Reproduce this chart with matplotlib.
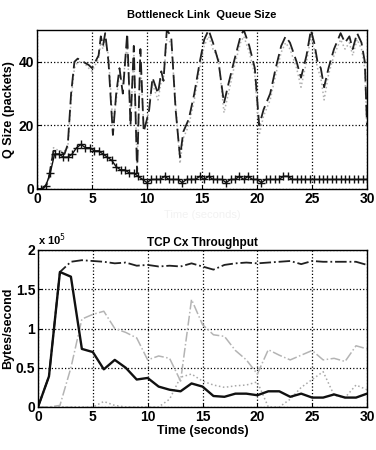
import numpy as np
import matplotlib
matplotlib.use("Agg")
import matplotlib.pyplot as plt

plt.rcParams['font.family'] = ['Liberation Sans', 'DejaVu Sans']

# bottleneck queue, instantaneous (dashed) and second trace (light dotted)
q_t = [0, 0.5, 1.0, 1.5, 2.0, 2.5, 2.8, 3.1, 3.4, 3.7, 4.2, 4.7, 5.0, 5.3, 5.6,
       5.8, 6.0, 6.2, 6.5, 6.9, 7.2, 7.5, 7.8, 8.2, 8.5, 8.8, 9.1, 9.4, 9.7, 10.0,
       10.2, 10.5, 11.0, 11.3, 11.5, 11.8, 12.2, 12.6, 13.0, 13.3, 13.8, 14.3, 14.8,
       15.2, 15.6, 16.0, 16.5, 17.0, 17.4, 17.9, 18.5, 18.8, 19.3, 19.8, 20.2, 20.6,
       21.2, 21.7, 22.2, 22.6, 23.0, 23.6, 24.0, 24.5, 24.9, 25.2, 25.5, 25.8, 26.1,
       26.5, 27.0, 27.6, 28.0, 28.4, 28.7, 29.1, 29.5, 29.8, 30.0]
q_inst = [0, 0, 2, 12, 12, 11, 14, 30, 40, 41, 40, 39, 38, 40, 42,
          48, 45, 49, 40, 17, 30, 38, 30, 49, 20, 45, 5, 44, 18, 22,
          25, 35, 30, 37, 34, 50, 48, 25, 10, 18, 22, 30, 40,
          47, 50, 46, 40, 27, 33, 40, 48, 50, 45, 38, 20, 25,
          30, 38, 45, 48, 46, 40, 35, 42, 50, 46, 40, 38, 32,
          38, 44, 49, 46, 48, 44, 49, 46, 40, 20]
q_other = [0, 0, 2, 13, 12, 12, 13, 28, 38, 40, 40, 38, 37, 39, 41,
           46, 44, 47, 42, 20, 28, 36, 33, 46, 22, 42, 8, 40, 20, 20,
           27, 33, 28, 34, 35, 47, 46, 27, 8, 16, 20, 28, 38,
           45, 48, 44, 41, 24, 30, 38, 46, 48, 43, 36, 17, 23,
           28, 36, 43, 46, 44, 38, 32, 40, 48, 44, 38, 35, 28,
           36, 42, 47, 44, 46, 42, 47, 44, 38, 17]

# averaged queue, sampled every 0.4 s
avg_t = np.arange(76) * 0.4
q_avg = [0, 0, 1, 5, 11, 11, 10, 10, 11, 13, 14, 13, 13, 12, 12, 11, 10, 9, 7, 6,
         6, 5, 5, 4, 3, 2, 3, 3, 3, 4, 3, 3, 3, 2, 3, 3, 3, 4, 3, 4,
         3, 3, 3, 2, 3, 3, 4, 3, 4, 3, 3, 2, 3, 3, 3, 3, 4, 4, 3, 3,
         3, 3, 3, 3, 3, 3, 3, 3, 3, 3, 3, 3, 3, 3, 3, 3]

# per-connection throughput, bytes/second, one sample per second
tput_t = list(range(31))
cx1 = [0, 39000, 172000, 166000, 74000, 70000, 48000, 60000, 50000, 35000, 37000,
       26000, 22000, 20000, 30000, 26000, 14000, 13000, 17000, 17000, 15000,
       20000, 20000, 13000, 17000, 12000, 12000, 16000, 12000, 12000, 17000]
cx2 = [0, 39000, 172000, 185000, 187000, 186000, 185000, 183000, 184000, 180000, 181000,
       179000, 180000, 179000, 183000, 179000, 175000, 181000, 183000, 184000, 183000,
       184000, 185000, 186000, 182000, 186000, 185000, 185000, 185000, 185000, 181000]
cx3 = [0, 0, 2000, 50000, 112000, 118000, 122000, 100000, 95000, 88000, 60000,
       65000, 62000, 33000, 137000, 105000, 92000, 90000, 72000, 60000, 42000,
       73000, 66000, 60000, 66000, 72000, 60000, 62000, 58000, 78000, 74000]
cx4 = [0, 0, 0, 0, 0, 0, 7000, 2000, 0, 0, 0,
       0, 10000, 38000, 42000, 33000, 28000, 25000, 27000, 28000, 32000,
       0, 0, 10000, 25000, 35000, 45000, 15000, 12000, 28000, 22000]

W, H = 376, 450
fig = plt.figure(figsize=(W / 100, H / 100), dpi=100)
ax1 = fig.add_axes([37 / W, 1 - 189 / H, 330 / W, 159 / H])
ax2 = fig.add_axes([38 / W, 1 - 407 / H, 329 / W, 157 / H])

ax1.plot(q_t, q_other, color='#b0b0b0', linestyle=':', linewidth=1.1)
ax1.plot(q_t, q_inst, color='#202020', linestyle=(0, (7, 3)), linewidth=1.3)
ax1.plot(avg_t, q_avg, color='#101010', linewidth=1.0, marker='+',
         markersize=6, markeredgewidth=1.0)
ax1.set_xlim(0, 30)
ax1.set_ylim(0, 50)
ax1.set_xticks(range(0, 31, 5))
ax1.set_yticks([0, 20, 40])
ax1.set_title("Bottleneck Link  Queue Size", fontsize=8, fontweight='bold', pad=9)
ax1.set_ylabel("Q Size (packets)", fontsize=9, fontweight='bold', labelpad=3)
ax1.set_xlabel("Time (seconds)", fontsize=8, color='#f2f2f2', labelpad=3)

ax2.plot(tput_t, cx4, color='#a8a8a8', linestyle=':', linewidth=1.1)
ax2.plot(tput_t, cx3, color='#b4b4b4', linestyle='-.', linewidth=1.1)
ax2.plot(tput_t, cx2, color='#202020', linestyle='-.', linewidth=1.3)
ax2.plot(tput_t, cx1, color='#101010', linestyle='-', linewidth=1.7)
ax2.set_xlim(0, 30)
ax2.set_ylim(0, 200000)
ax2.set_xticks(range(0, 31, 5))
ax2.set_yticks([0, 50000, 100000, 150000, 200000])
ax2.set_yticklabels(["0", "0.5", "1", "1.5", "2"])
ax2.set_title("TCP Cx Throughput", fontsize=8.5, fontweight='bold', pad=3)
ax2.set_ylabel("Bytes/second", fontsize=9, fontweight='bold', labelpad=1)
ax2.set_xlabel("Time (seconds)", fontsize=9, fontweight='bold', labelpad=1)
ax2.text(0.0, 1.015, r"x 10$^5$", transform=ax2.transAxes, fontsize=8,
         fontweight='bold', ha='left', va='bottom')

for ax in (ax1, ax2):
    ax.grid(True, color='black', linestyle=':', linewidth=0.9)
    ax.tick_params(direction='in', length=3, width=0.8, pad=2)
    for lab in ax.get_xticklabels() + ax.get_yticklabels():
        lab.set_fontsize(10)
        lab.set_fontweight('bold')
    for sp in ax.spines.values():
        sp.set_linewidth(1.0)

fig.savefig("out.png", dpi=100)
